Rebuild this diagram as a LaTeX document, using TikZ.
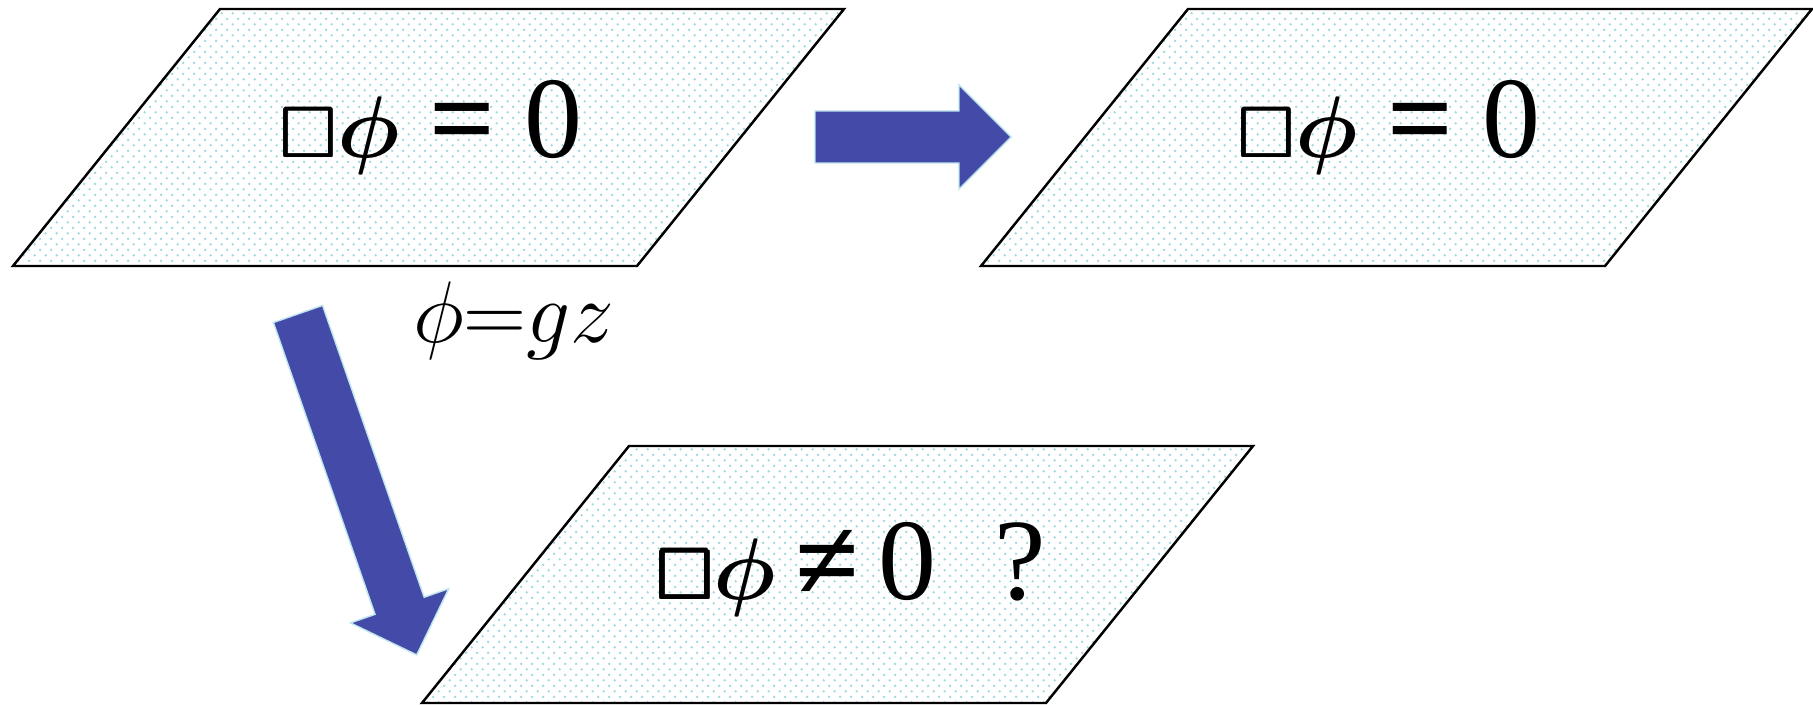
\documentclass[tikz,border=0pt]{standalone}
\usepackage{fontspec}
\usepackage{amsmath}
\usepackage{amssymb}
\setmainfont{Liberation Serif}
\usetikzlibrary{patterns}

% light dotted fill of the planes
\pgfdeclarepatternformonly{fine dots}{\pgfpointorigin}{\pgfqpoint{3.1pt}{3.1pt}}{\pgfqpoint{3.1pt}{3.1pt}}{%
  \pgfpathcircle{\pgfqpoint{0.775pt}{0.775pt}}{0.38pt}
  \pgfpathcircle{\pgfqpoint{2.325pt}{2.325pt}}{0.38pt}
  \pgfusepath{fill}}

\definecolor{dotcyan}{RGB}{160,216,224}
\definecolor{arrowblue}{RGB}{67,74,168}
\definecolor{arrowedge}{RGB}{190,228,236}

\newcommand{\dalem}{\scalebox{0.62}{$\pmb{\Box}$}}
\newcommand{\fieldphi}{$\boldsymbol{\phi}$}

\tikzset{
  plane/.style={draw=black, line width=0.7pt, pattern=fine dots, pattern color=dotcyan},
  blockarrow/.style={fill=arrowblue, draw=arrowedge, line width=0.4pt},
  eqtext/.style={font=\fontsize{33}{40}\selectfont, anchor=base, inner sep=0pt},
}

\begin{document}
\begin{tikzpicture}

    % Plane size
    \def\planeW{6.24}
    \def\planeH{2.57}
    \def\slant{2.07}

    % Block arrow: shaft 0.52, head 1.04 wide, 0.52 long
    \def\blockarr#1{(0,0.26) -- ({#1-0.52},0.26) -- ({#1-0.52},0.52) -- (#1,0)
        -- ({#1-0.52},-0.52) -- ({#1-0.52},-0.26) -- (0,-0.26) -- cycle}

    \useasboundingbox (0,0) rectangle (18.13,7.04);

    % =========================================================================
    % Planes
    % =========================================================================
    \draw[plane] (0.13,4.38) -- ++(\planeW,0) -- ++(\slant,\planeH) -- ++(-\planeW,0) -- cycle;
    \draw[plane] (9.81,4.38) -- ++(\planeW,0) -- ++(\slant,\planeH) -- ++(-\planeW,0) -- cycle;
    \draw[plane] (4.22,0.01) -- ++(\planeW,0) -- ++(\slant,\planeH) -- ++(-\planeW,0) -- cycle;

    \node[eqtext] (eqLeft) at (4.32,5.46) {\dalem\fieldphi\ \textbf{=} 0};
    \node[eqtext] (eqRight) at (13.90,5.46) {\dalem\fieldphi\ \textbf{=} 0};
    \node[eqtext] (eqBottom) at (8.52,1.05) {\dalem\fieldphi\,\textbf{≠}\,0\hspace{0.5em}?};

    % =========================================================================
    % Arrows
    % =========================================================================
    \begin{scope}[shift={(8.15,5.67)}]
        \draw[blockarrow] \blockarr{1.96};
    \end{scope}

    \begin{scope}[shift={(2.98,3.90)}, rotate=-70.8]
        \draw[blockarrow] \blockarr{3.61};
    \end{scope}

    \node[font=\fontsize{23}{28}\selectfont, anchor=base, inner sep=0pt] (gauge) at (5.14,3.61) {$\phi{=}gz$};

\end{tikzpicture}
\end{document}
